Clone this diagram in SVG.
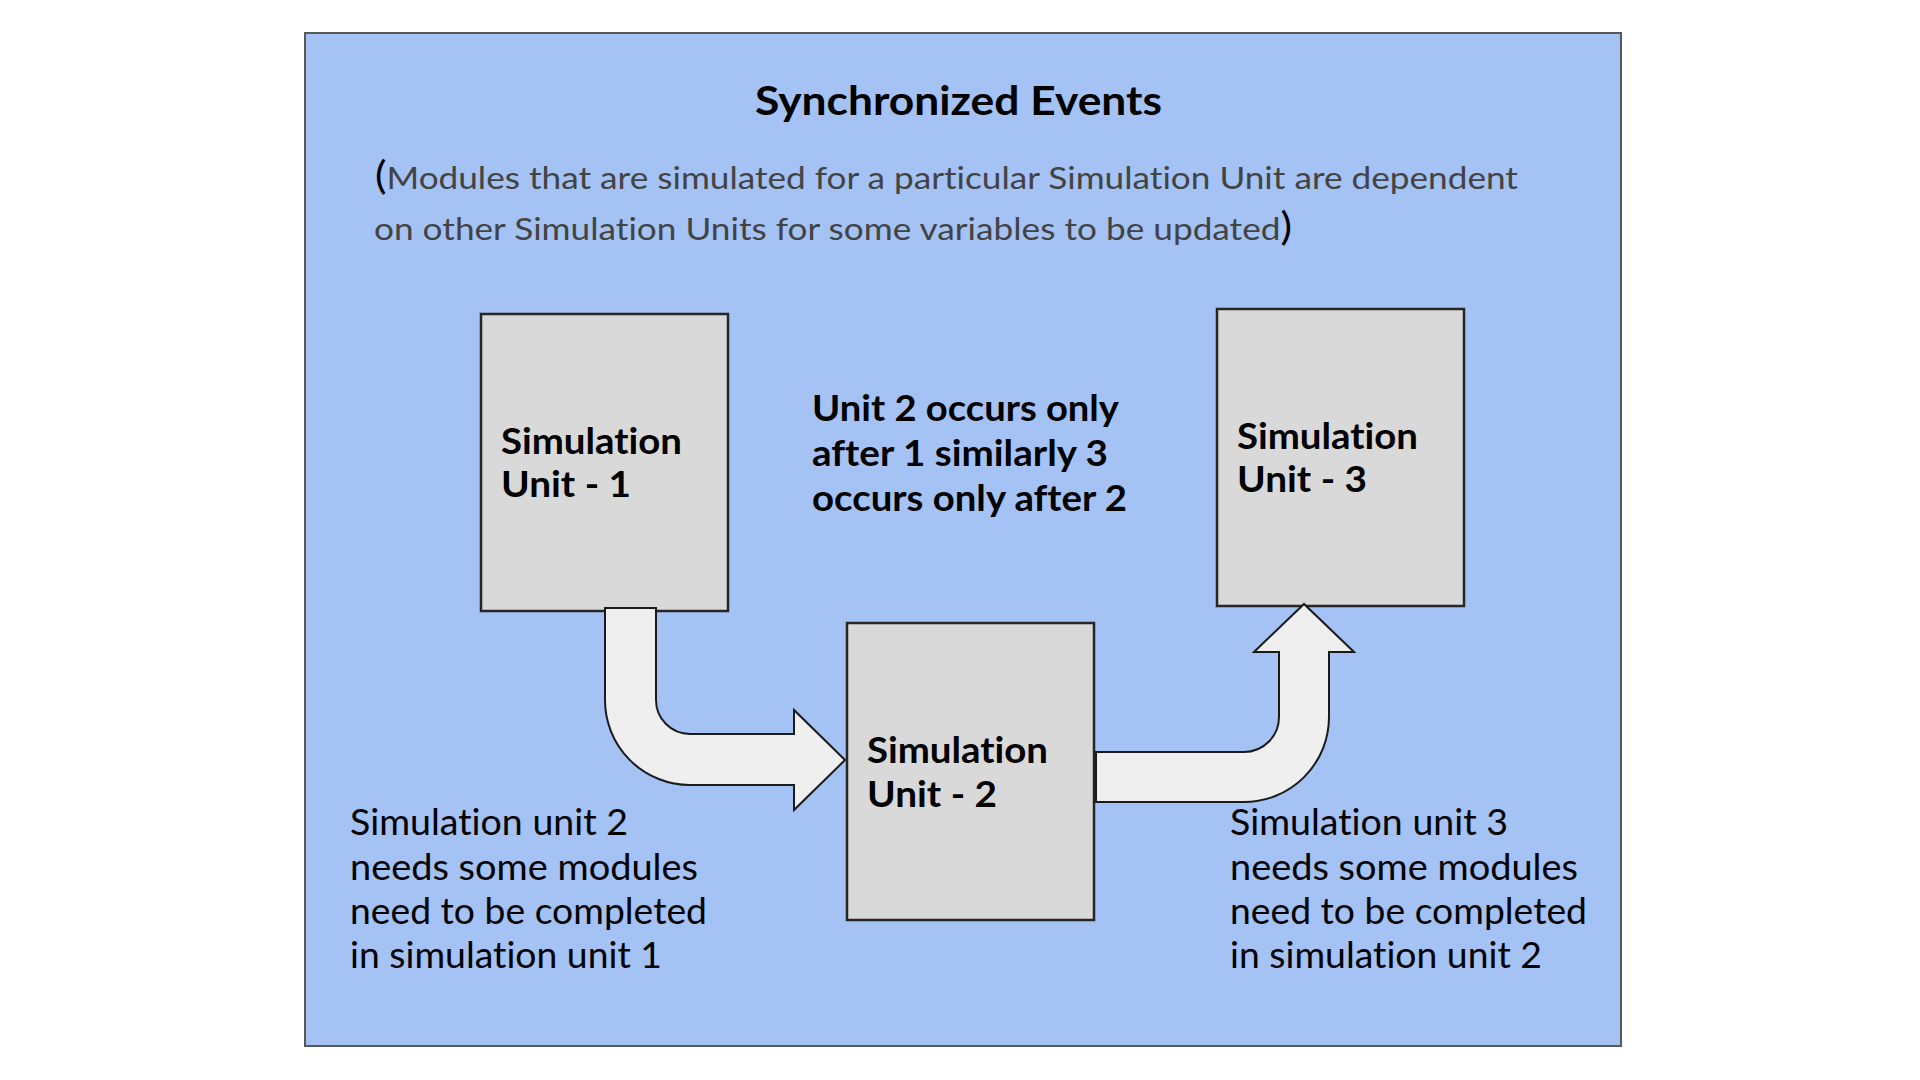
<svg xmlns="http://www.w3.org/2000/svg" width="1920" height="1080" viewBox="0 0 1920 1080">
  <style>
    .panel { fill: #a4c2f4; stroke: #595959; stroke-width: 2; }
    .box { fill: #d9d9d9; stroke: #262626; stroke-width: 2.5; }
    .arrow { fill: #efefef; stroke: #1a1a1a; stroke-width: 2; stroke-linejoin: miter; }
    text { font-family: Lato, "Noto Sans", "Liberation Sans", sans-serif; fill: #000; font-variant-ligatures: none; font-feature-settings: "liga" 0, "clig" 0; }
    .title { font-size: 40px; font-weight: bold; }
    .sub { font-size: 31px; fill: #434343; }
    .paren { font-size: 38px; fill: #000; }
    .lbl { font-size: 36px; font-weight: bold; }
    .note { font-size: 36px; font-weight: bold; }
    .desc { font-size: 36px; }
  </style>
  <rect width="1920" height="1080" fill="#ffffff"/>
  <rect class="panel" x="305" y="33" width="1316" height="1013"/>

  <g id="title">
    <text class="title" x="755" y="115" textLength="407" lengthAdjust="spacingAndGlyphs">Synchronized Events</text>
  </g>
  <g id="subtitle">
    <text class="sub" x="375" y="189" textLength="1143" lengthAdjust="spacingAndGlyphs"><tspan class="paren">(</tspan>Modules that are simulated for a particular Simulation Unit are dependent</text>
    <text class="sub" x="374" y="240" textLength="918" lengthAdjust="spacingAndGlyphs">on other Simulation Units for some variables to be updated<tspan class="paren">)</tspan></text>
  </g>

  <g id="unit1">
    <rect class="box" x="481" y="314" width="247" height="297"/>
    <text class="lbl" x="501" y="454" textLength="181" lengthAdjust="spacingAndGlyphs">Simulation</text>
    <text class="lbl" x="501" y="497" textLength="130" lengthAdjust="spacingAndGlyphs">Unit - 1</text>
  </g>
  <g id="unit2">
    <rect class="box" x="847" y="623" width="247" height="297"/>
    <text class="lbl" x="867" y="763" textLength="181" lengthAdjust="spacingAndGlyphs">Simulation</text>
    <text class="lbl" x="867" y="807" textLength="130" lengthAdjust="spacingAndGlyphs">Unit - 2</text>
  </g>
  <g id="unit3">
    <rect class="box" x="1217" y="309" width="247" height="297"/>
    <text class="lbl" x="1237" y="449" textLength="181" lengthAdjust="spacingAndGlyphs">Simulation</text>
    <text class="lbl" x="1237" y="492" textLength="130" lengthAdjust="spacingAndGlyphs">Unit - 3</text>
  </g>

  <g id="connectors">
    <path class="arrow" d="M605,608 L656,608 L656,700 A34,34 0 0 0 690,734 L794,734 L794,710 L845,760 L794,810 L794,785 L690,785 A85,85 0 0 1 605,700 Z"/>
    <path class="arrow" d="M1096,752 L1244,752 A35,35 0 0 0 1279,717 L1279,652 L1254,652 L1304,604 L1354,652 L1329,652 L1329,717 A85,85 0 0 1 1244,802 L1096,802 Z"/>
  </g>

  <g id="order-note">
    <text class="note" x="812" y="421" textLength="307" lengthAdjust="spacingAndGlyphs">Unit 2 occurs only</text>
    <text class="note" x="812" y="466" textLength="296" lengthAdjust="spacingAndGlyphs">after 1 similarly 3</text>
    <text class="note" x="812" y="511" textLength="315" lengthAdjust="spacingAndGlyphs">occurs only after 2</text>
  </g>

  <g id="note-unit2">
    <text class="desc" x="350" y="835" textLength="278" lengthAdjust="spacingAndGlyphs">Simulation unit 2</text>
    <text class="desc" x="350" y="880" textLength="348" lengthAdjust="spacingAndGlyphs">needs some modules</text>
    <text class="desc" x="350" y="924" textLength="357" lengthAdjust="spacingAndGlyphs">need to be completed</text>
    <text class="desc" x="350" y="968" textLength="312" lengthAdjust="spacingAndGlyphs">in simulation unit 1</text>
  </g>

  <g id="note-unit3">
    <text class="desc" x="1230" y="835" textLength="278" lengthAdjust="spacingAndGlyphs">Simulation unit 3</text>
    <text class="desc" x="1230" y="880" textLength="348" lengthAdjust="spacingAndGlyphs">needs some modules</text>
    <text class="desc" x="1230" y="924" textLength="357" lengthAdjust="spacingAndGlyphs">need to be completed</text>
    <text class="desc" x="1230" y="968" textLength="312" lengthAdjust="spacingAndGlyphs">in simulation unit 2</text>
  </g>
</svg>
